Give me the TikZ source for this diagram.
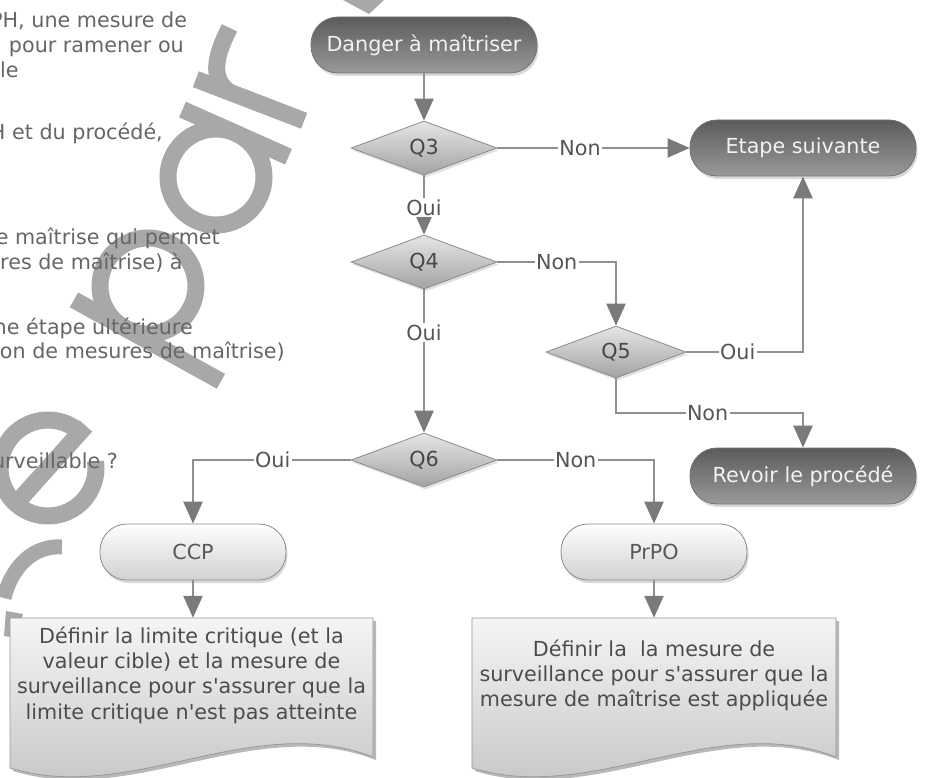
\documentclass[tikz,border=0pt]{standalone}
\usepackage{fontspec}
\setmainfont{DejaVu Sans}
\usetikzlibrary{shapes.geometric,arrows.meta,shadows}
\definecolor{wmark}{HTML}{A8A8A8}
\definecolor{lnc}{HTML}{8F8F8F}
\definecolor{tipc}{HTML}{7A7A7A}
\definecolor{lbl}{HTML}{555555}
\definecolor{side}{HTML}{666666}
\tikzset{
  darkpill/.style={rectangle, rounded corners=27pt, minimum width=226pt, minimum height=56pt,
    draw=black!55, line width=0.8pt, top color=black!64, bottom color=black!40, text=white!95!black,
    drop shadow={opacity=0.3, shadow xshift=1.5pt, shadow yshift=-3pt}},
  lightpill/.style={rectangle, rounded corners=27pt, minimum width=186pt, minimum height=56pt,
    draw=black!45, line width=0.8pt, top color=white, bottom color=black!18, text=black!65,
    drop shadow={opacity=0.3, shadow xshift=1.5pt, shadow yshift=-3pt}},
  dia/.style={diamond, aspect=2.7, inner sep=0pt, minimum width=146pt, minimum height=54pt,
    draw=black!45, line width=0.8pt, top color=black!10, bottom color=black!36, text=black!72,
    drop shadow={opacity=0.25, shadow xshift=1.5pt, shadow yshift=-2.5pt}},
  conn/.style={draw=lnc, line width=2.4pt, -{Triangle[width=19pt,length=22pt,color=tipc]}},
  lab/.style={fill=white, text=lbl, inner sep=1.5pt},
  docbox/.style={draw=black!40, line width=0.8pt, top color=black!4, bottom color=black!24},
  doctext/.style={align=center, text=black!70, inner sep=0pt, minimum width=360pt},
  sidetext/.style={text=side, inner sep=0pt},
  wm/.style={draw=wmark, line width=17pt},
}
\begin{document}
\begin{tikzpicture}[x=1pt,y=-1pt,font=\fontsize{20.7}{25.3}\selectfont]
\useasboundingbox (0,0) rectangle (928,778);
\fill[white] (0,0) rectangle (928,778);
\begin{scope}
\clip (0,0) rectangle (928,778);
% watermark letters
\begin{scope}[shift={(250,100)},rotate=69,y=1pt]
  \draw[wm] (0,-58) -- (0,58);
  \draw[wm] (0,22) .. controls (6,46) and (30,48) .. (60,45);
\end{scope}
\begin{scope}[shift={(216,177)},rotate=66,y=1pt]
  \draw[wm] (0,0) circle[radius=48];
  \draw[wm] (48,-58) -- (48,58);
\end{scope}
\begin{scope}[shift={(148,286)},rotate=61,y=1pt]
  \draw[wm] (0,0) circle[radius=48];
  \draw[wm] (-48,58) -- (-48,-110);
\end{scope}
\begin{scope}[shift={(48,468)},rotate=48,y=1pt]
  \draw[wm] (48,0) arc[start angle=0,end angle=320,radius=48];
  \draw[wm] (-48,0) -- (56.5,0);
\end{scope}
\draw[draw=wmark, line width=15pt] (62,547) .. controls (35,545) and (12,565) .. (4,598);
\fill[wmark] (6,611) -- (23,614) -- (18,638) -- (4,636) -- cycle;
\fill[wmark] (343,0) -- (384,0) -- (369,14) -- cycle;
% cut text on the left
\node[sidetext, anchor=base west] (t1) at (-10,28) {PH, une mesure de};
\node[sidetext, anchor=base east] (t2) at (184,53) {pour ramener ou};
\node[sidetext, anchor=base west] (t3) at (0,78) {le};
\node[sidetext, anchor=base east] (t4) at (163,140) {H et du procédé,};
\node[sidetext, anchor=base east] (t5) at (220,244) {e maîtrise qui permet};
\node[sidetext, anchor=base west] (t6) at (0,269) {res de maîtrise) à};
\node[sidetext, anchor=base east] (t7) at (193,334) {ne étape ultérieure};
\node[sidetext, anchor=base east] (t8) at (285,358) {on de mesures de maîtrise)};
\node[sidetext, anchor=base east] (t9) at (118,468) {urveillable ?};
\end{scope}
% document shapes
\begin{scope}[shift={(3,3)}]
  \fill[black, opacity=0.28] (10,618) -- (373,618) -- (373,757) .. controls (252,710) and (131,805) .. (10,768) -- cycle;
  \fill[black, opacity=0.28] (472,618) -- (836,618) -- (836,757) .. controls (715,710) and (593,805) .. (472,768) -- cycle;
\end{scope}
\path[docbox] (10,618) -- (373,618) -- (373,757) .. controls (252,710) and (131,805) .. (10,768) -- cycle;
\path[docbox] (472,618) -- (836,618) -- (836,757) .. controls (715,710) and (593,805) .. (472,768) -- cycle;
\node[doctext, minimum height=114pt] (docl) at (191.5,675) {Définir la limite critique (et la\\valeur cible) et la mesure de\\surveillance pour s\textquotesingle assurer que la\\limite critique n\textquotesingle est pas atteinte};
\node[doctext, minimum height=115pt] (docr) at (654,675.5) {Définir la~ la mesure de\\surveillance pour s\textquotesingle assurer que la\\mesure de maîtrise est appliquée};
% nodes
\node[darkpill] (dg) at (424,45) {Danger à maîtriser};
\node[dia] (q3) at (424,148) {Q3};
\node[darkpill] (et) at (803,148) {Etape suivante};
\node[dia] (q4) at (424,262) {Q4};
\node[dia, minimum width=140pt, minimum height=52pt] (q5) at (616,352) {Q5};
\node[darkpill] (rv) at (803,476) {Revoir le procédé};
\node[dia] (q6) at (424,460) {Q6};
\node[lightpill] (ccp) at (193,552) {CCP};
\node[lightpill] (prpo) at (654,552) {PrPO};
\coordinate (j1) at (616,413);
% connectors
\draw[conn] (dg.south) -- (q3.north);
\draw[conn] (q3.east) -- node[lab,pos=0.43]{Non} (et.west);
\draw[conn] (q3.south) -- node[lab,pos=0.55]{Oui} (q4.north);
\draw[conn] (q4.east) -| node[lab,pos=0.25]{Non} (q5.north);
\draw[conn] (q5.east) -| node[lab,pos=0.22]{Oui} (et.south);
\draw[conn] (q5.south) -- (j1) -| node[lab,pos=0.245]{Non} (rv.north);
\draw[conn] (q4.south) -- node[lab,pos=0.3]{Oui} (q6.north);
\draw[conn] (q6.west) -| node[lab,pos=0.247]{Oui} (ccp.north);
\draw[conn] (q6.east) -| node[lab,pos=0.25]{Non} (prpo.north);
\draw[conn] (ccp.south) -- (ccp.south |- docl.north);
\draw[conn] (prpo.south) -- (prpo.south |- docr.north);
\end{tikzpicture}
\end{document}
